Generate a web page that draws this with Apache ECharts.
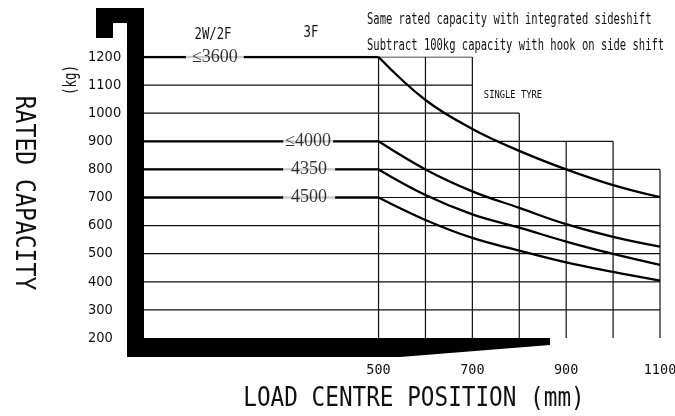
<!DOCTYPE html>
<html>
<head>
<meta charset="utf-8">
<script src="https://cdn.jsdelivr.net/npm/echarts@6/dist/echarts.min.js"></script>
<style>
  html, body { margin: 0; padding: 0; background: #fff; }
  #chart { width: 675px; height: 416px; }
</style>
</head>
<body>
<div id="chart"></div>
<script>
// load centre positions (mm) where the curves were read
const loadCentres = [500, 600, 700, 800, 900, 1000, 1100];

// rated capacity (kg) for each mast / capacity class
const cap3600 = [1200, 1047, 944, 866, 800, 744, 701];
const cap4000 = [900, 800, 722, 663, 605, 560, 525];
const cap4350 = [800, 709, 640, 593, 543, 499, 460];
const cap4500 = [700, 620, 556, 511, 469, 435, 404];

// flat part of each curve (load centre 0..500) and its tag
const capLevels = [1200, 900, 800, 700];
const capLabels = ["≤3600", "≤4000", "4350", "4500"];
const capLabelAt = [151, 350, 352, 352];

// staircase grid: rows and how far right they go, columns and how high
const gridRows = [300, 400, 500, 600, 700, 800, 900, 1000, 1100, 1200];
const gridRowEnds = [1100, 1100, 1100, 1100, 1100, 1100, 1000, 800, 700, 700];
const gridCols = [500, 600, 700, 800, 900, 1000, 1100];
const gridColTops = [1200, 1200, 1200, 1000, 900, 900, 800];

const xTickLabels = [500, 700, 900, 1100];

const chart = echarts.init(document.getElementById("chart"), null, { renderer: "canvas" });

const serif = "'Liberation Serif', 'DejaVu Serif', serif";
const condensed = "'DejaVu Sans Condensed', 'DejaVu Sans', sans-serif";
const mono = "'DejaVu Sans Mono', monospace";

function thinLine(points) {
  return {
    type: "line",
    data: points,
    symbol: "none",
    silent: true,
    z: 1,
    lineStyle: { color: "#111", width: 1.2 },
  };
}

function thickLine(points, smooth) {
  return {
    type: "line",
    data: points,
    symbol: "none",
    silent: true,
    smooth: smooth ? 0.4 : false,
    z: 3,
    lineStyle: { color: "#000", width: 2.3 },
  };
}

function curve(values) {
  return thickLine(loadCentres.map((x, i) => [x, values[i]]), true);
}

function note(text, x, y, size, sy, opts) {
  opts = opts || {};
  return {
    type: "text",
    x: x,
    y: y,
    rotation: opts.rotation || 0,
    scaleY: sy,
    z: 10,
    style: {
      text: text,
      font: (opts.weight || "normal") + " " + size + "px " + mono,
      fill: "#111",
      align: opts.align || "center",
      textAlign: opts.align || "center",
      verticalAlign: "middle",
      textVerticalAlign: "middle",
    },
  };
}

const series = [];
gridRows.forEach((y, i) => series.push(thinLine([[0, y], [gridRowEnds[i], y]])));
gridCols.forEach((x, i) => series.push(thinLine([[x, 200], [x, gridColTops[i]]])));
capLevels.forEach((y) => series.push(thickLine([[0, y], [500, y]], false)));
[cap3600, cap4000, cap4350, cap4500].forEach((c) => series.push(curve(c)));

const capPad = [6, 2, 8, 8];
series.push({
  type: "scatter",
  symbolSize: 0,
  silent: true,
  z: 5,
  data: capLevels.map((y, i) => ({
    value: [capLabelAt[i], y],
    label: {
      show: true,
      position: "inside",
      formatter: capLabels[i],
      fontFamily: serif,
      fontSize: 18,
      color: "#000",
      backgroundColor: "#fff",
      padding: [2, capPad[i]],
    },
  })),
});

const option = {
  animation: false,
  backgroundColor: "#fff",
  grid: { left: 144, right: 15, top: 57, bottom: 78, outerBoundsMode: "none" },
  xAxis: {
    type: "value",
    min: 0,
    max: 1100,
    interval: 100,
    axisLine: { show: false },
    axisTick: { show: false },
    splitLine: { show: false },
    axisLabel: {
      margin: 25,
      fontFamily: mono,
      fontSize: 13.5,
      color: "#111",
      formatter: (v) => (xTickLabels.includes(v) ? String(v) : ""),
    },
  },
  yAxis: {
    type: "value",
    min: 200,
    max: 1200,
    interval: 100,
    axisLine: { show: false },
    axisTick: { show: false },
    splitLine: { show: false },
    axisLabel: {
      margin: 56,
      align: "left",
      fontFamily: condensed,
      fontSize: 14.5,
      color: "#111",
      formatter: (v) => String(v),
    },
  },
  graphic: [
    // heavy frame: mast upright with hook at top, forks along the bottom
    { type: "rect", z: 8, shape: { x: 127, y: 8, width: 17, height: 349 }, style: { fill: "#000" } },
    { type: "rect", z: 8, shape: { x: 96, y: 8, width: 48, height: 15 }, style: { fill: "#000" } },
    { type: "rect", z: 8, shape: { x: 96, y: 8, width: 17, height: 30 }, style: { fill: "#000" } },
    {
      type: "polygon",
      z: 8,
      shape: { points: [[127, 338], [550, 338], [550, 345], [400, 357], [127, 357]] },
      style: { fill: "#000" },
    },
    note("2W/2F", 213, 35, 12.3, 1.33),
    note("3F", 311, 33, 12.3, 1.33),
    note("Same rated capacity with integrated sideshift", 367, 20, 10.5, 1.5, { align: "left" }),
    note("Subtract 100kg capacity with hook on side shift", 367, 46, 10.5, 1.5, { align: "left" }),
    note("SINGLE TYRE", 513, 95, 8.8, 1.15),
    note("(kg)", 72, 80, 12.5, 1.35, { rotation: Math.PI / 2 }),
    note("RATED CAPACITY", 23, 193, 23.1, 1.18, { rotation: -Math.PI / 2 }),
    note("LOAD CENTRE POSITION (mm)", 414, 399, 22.7, 1.2),
  ],
  series: series,
};

chart.setOption(option);
</script>
</body>
</html>
